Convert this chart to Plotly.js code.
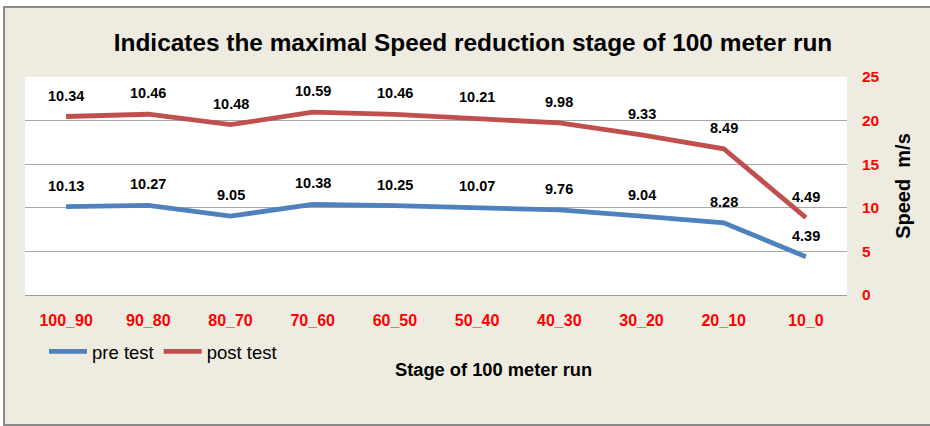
<!DOCTYPE html>
<html>
<head>
<meta charset="utf-8">
<script src="https://cdn.plot.ly/plotly-3.0.1.min.js"></script>
<style>
  html, body { margin: 0; padding: 0; background: #ffffff; width: 930px; height: 426px; overflow: hidden; }
  #frame { position: absolute; left: 3px; top: 6px; width: 940px; height: 416px; background: #EEECE1; border: 2px solid #8a8a8a; }
  #chart { position: absolute; left: 0; top: 0; width: 930px; height: 426px; }
</style>
</head>
<body>
<div id="frame"></div>
<div id="chart"></div>
<script>
// ---- data ----
const stages = ["100_90", "90_80", "80_70", "70_60", "60_50", "50_40", "40_30", "30_20", "20_10", "10_0"];
const preTest = [10.13, 10.27, 9.05, 10.38, 10.25, 10.07, 9.76, 9.04, 8.28, 4.39];
const postTest = [10.34, 10.46, 10.48, 10.59, 10.46, 10.21, 9.98, 9.33, 8.49, 4.49];
const yTicks = [0, 5, 10, 15, 20, 25];

const FONT = "Liberation Sans, Arial, sans-serif";
const BLUE = "#4F81BD";
const RED = "#C0504D";

const traces = [
  { x: stages, y: preTest, name: "pre test", type: "scatter", mode: "lines",
    stackgroup: "speed", fill: "none",
    line: { color: BLUE, width: 4.8 }, hoverinfo: "x+text", text: preTest.map(String) },
  { x: stages, y: postTest, name: "post test", type: "scatter", mode: "lines",
    stackgroup: "speed", fill: "none",
    line: { color: RED, width: 4.8 }, hoverinfo: "x+text", text: postTest.map(String) }
];

// value labels, anchored at the (stacked) data point, shifted above it
const annotations = [];
stages.forEach((s, i) => {
  annotations.push({ x: s, y: preTest[i], xref: "x", yref: "y", text: preTest[i].toFixed(2),
    showarrow: false, yshift: 21, font: { family: FONT, size: 14.5, color: "#000", weight: "bold" } });
  annotations.push({ x: s, y: preTest[i] + postTest[i], xref: "x", yref: "y", text: postTest[i].toFixed(2),
    showarrow: false, yshift: 21, font: { family: FONT, size: 14.5, color: "#000", weight: "bold" } });
});
annotations.push({ text: "Stage of 100 meter run", xref: "paper", yref: "paper",
  x: (493 - 25) / 822, y: (295 - 370) / 218.6, xanchor: "center", yanchor: "middle", showarrow: false,
  font: { family: FONT, size: 18.3, color: "#000", weight: "bold" } });

const layout = {
  width: 930, height: 426,
  paper_bgcolor: "rgba(0,0,0,0)",
  plot_bgcolor: "#ffffff",
  margin: { l: 25, r: 83, t: 77, b: 131 },
  title: { text: "Indicates the maximal Speed reduction stage of 100 meter run",
    font: { family: FONT, size: 24.4, color: "#000", weight: "bold" },
    x: 473 / 930, xref: "container", xanchor: "center", y: 1 - 42 / 426, yref: "container", yanchor: "middle" },
  xaxis: {
    type: "category", range: [-0.5, stages.length - 0.5], showgrid: false, zeroline: false,
    showline: true, linecolor: "#9a9a9a", linewidth: 1,
    ticks: "", ticklabelstandoff: 11,
    tickfont: { family: FONT, size: 16, color: "#FF0000", weight: "bold" }
  },
  yaxis: {
    side: "right", range: [0, 25], tickvals: yTicks, ticktext: yTicks.map(String),
    showgrid: true, gridcolor: "#a6a6a6", gridwidth: 1, zeroline: false, showline: false,
    ticks: "", ticklabelstandoff: 14,
    tickfont: { family: FONT, size: 15.5, color: "#FF0000", weight: "bold" },
    title: { text: "Speed  m/s", standoff: 17, font: { family: FONT, size: 20, color: "#000", weight: "bold" } }
  },
  showlegend: true,
  legend: { orientation: "h", x: (44 - 25) / 822, xanchor: "left", y: (295 - 352) / 218.6, yanchor: "middle",
    bgcolor: "rgba(0,0,0,0)", font: { family: FONT, size: 18.5, color: "#000" }, traceorder: "normal",
    itemwidth: 38, tracegroupgap: 0 },
  annotations: annotations
};

Plotly.newPlot("chart", traces, layout, { displayModeBar: false, staticPlot: true });
</script>
</body>
</html>
